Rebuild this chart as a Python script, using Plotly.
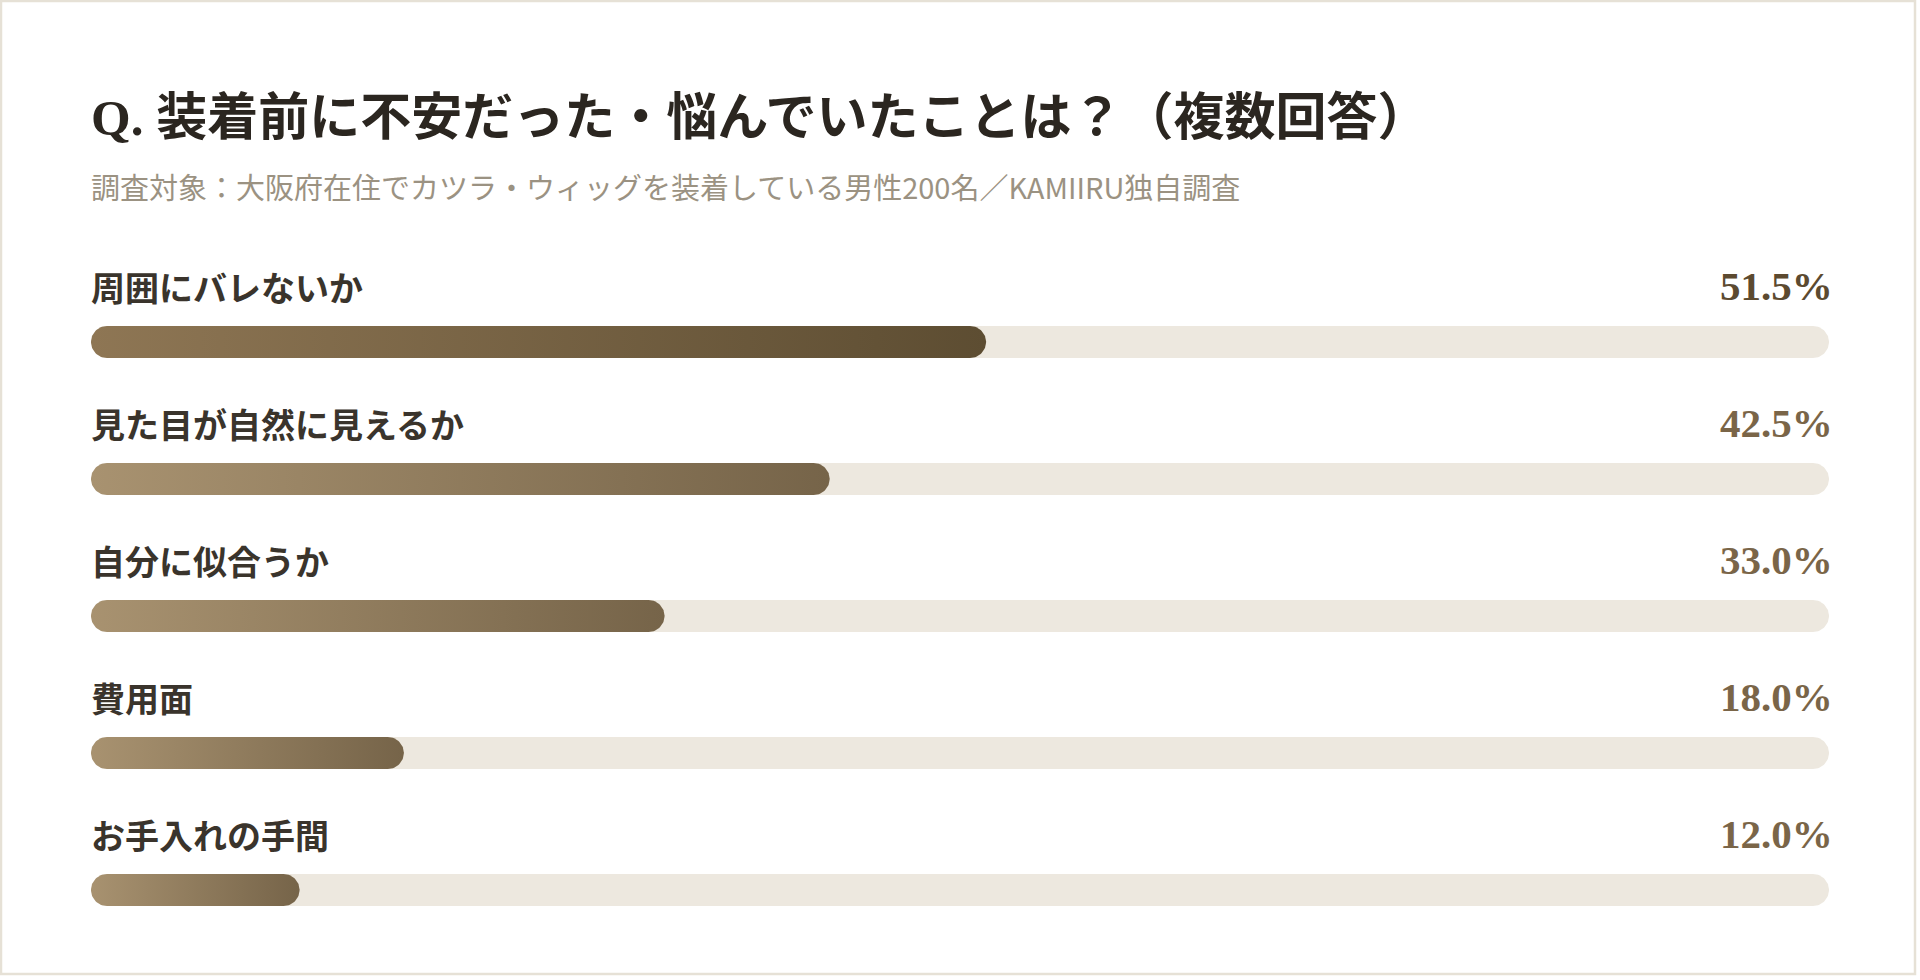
import numpy as np
import plotly.graph_objects as go

# ---- data ----
title = "Q. 装着前に不安だった・悩んでいたことは？（複数回答）"
subtitle = "調査対象：大阪府在住でカツラ・ウィッグを装着している男性200名／KAMIIRU独自調査"
categories = ["周囲にバレないか", "見た目が自然に見えるか", "自分に似合うか", "費用面", "お手入れの手間"]
values = [51.5, 42.5, 33.0, 18.0, 12.0]
max_value = 100

# ---- layout constants (pixels) ----
W, H = 1920, 980
X0_PX, X1_PX = 91, 1829
ROW0_PX, ROW_PX = 342, 137
BAR_R = 16  # half bar height in px
LABEL_OFF = -56  # px from bar centre to label centre

px_per_x = (X1_PX - X0_PX) / max_value
px_per_y = ROW_PX


def pill(x0, x1, yc, r_px):
    rx = r_px / px_per_x
    ry = r_px / px_per_y
    t = np.linspace(-np.pi / 2, np.pi / 2, 40)
    xr = (x1 - rx) + rx * np.cos(t)
    yr = yc + ry * np.sin(t)
    t2 = np.linspace(np.pi / 2, 3 * np.pi / 2, 40)
    xl = (x0 + rx) + rx * np.cos(t2)
    yl = yc + ry * np.sin(t2)
    xs = np.concatenate([xr, xl, xr[:1]])
    ys = np.concatenate([yr, yl, yr[:1]])
    return xs, ys


fig = go.Figure()

track_color = "#ede8df"
for i, v in enumerate(values):
    xs, ys = pill(0, max_value, i, BAR_R)
    fig.add_trace(go.Scatter(x=xs, y=ys, mode="lines", fill="toself",
                             fillcolor=track_color, line=dict(width=0, color=track_color),
                             hoverinfo="skip", showlegend=False))

for i, v in enumerate(values):
    xs, ys = pill(0, v, i, BAR_R)
    if i == 0:
        cs = [[0, "#8e7654"], [1, "#5d4d32"]]
    else:
        cs = [[0, "#a89270"], [1, "#766449"]]
    fig.add_trace(go.Scatter(x=xs, y=ys, mode="lines", fill="toself",
                             fillgradient=dict(type="horizontal", colorscale=cs),
                             line=dict(width=0, color="rgba(0,0,0,0)"),
                             hoverinfo="skip", showlegend=False))

annotations = []
for i, (c, v) in enumerate(zip(categories, values)):
    ylab = i + LABEL_OFF / px_per_y
    annotations.append(dict(x=0, y=ylab, xref="x", yref="y", text=f"<b>{c}</b>",
                            showarrow=False, xanchor="left", yanchor="middle", xshift=-2,
                            font=dict(family="Noto Sans CJK JP", size=34, color="#3a342c")))
    annotations.append(dict(x=max_value, y=ylab, xref="x", yref="y", text=f"<b>{v:.1f}%</b>",
                            showarrow=False, xanchor="right", yanchor="middle", xshift=6,
                            font=dict(family="Liberation Serif", size=41,
                                      color="#5c4a30" if i == 0 else "#7a6548")))

annotations.append(dict(x=89 / W, y=1 - 118 / H, xref="paper", yref="paper",
                        text=f"<b>{title}</b>", showarrow=False, xanchor="left", yanchor="middle",
                        font=dict(family="Liberation Serif, Noto Sans CJK JP", size=51, color="#2b2620")))
annotations.append(dict(x=89 / W, y=1 - 186 / H, xref="paper", yref="paper",
                        text=subtitle, showarrow=False, xanchor="left", yanchor="middle",
                        font=dict(family="Noto Sans CJK JP", size=29, color="#9b9282")))

fig.update_layout(
    width=W, height=H,
    margin=dict(l=0, r=0, t=0, b=0),
    paper_bgcolor="white", plot_bgcolor="rgba(0,0,0,0)",
    xaxis=dict(domain=[X0_PX / W, X1_PX / W], range=[0, max_value], visible=False, fixedrange=True),
    yaxis=dict(domain=[0, 1], range=[(H - ROW0_PX) / ROW_PX, -ROW0_PX / ROW_PX],
               visible=False, fixedrange=True),
    annotations=annotations,
    shapes=[dict(type="rect", xref="paper", yref="paper", x0=1 / W, x1=1 - 5 / W,
                 y0=6 / H, y1=1 - 1 / H, line=dict(color="#e6e1d6", width=2.5),
                 fillcolor="rgba(0,0,0,0)", layer="below")],
)

fig.write_html("out.html", config={"displayModeBar": False})
